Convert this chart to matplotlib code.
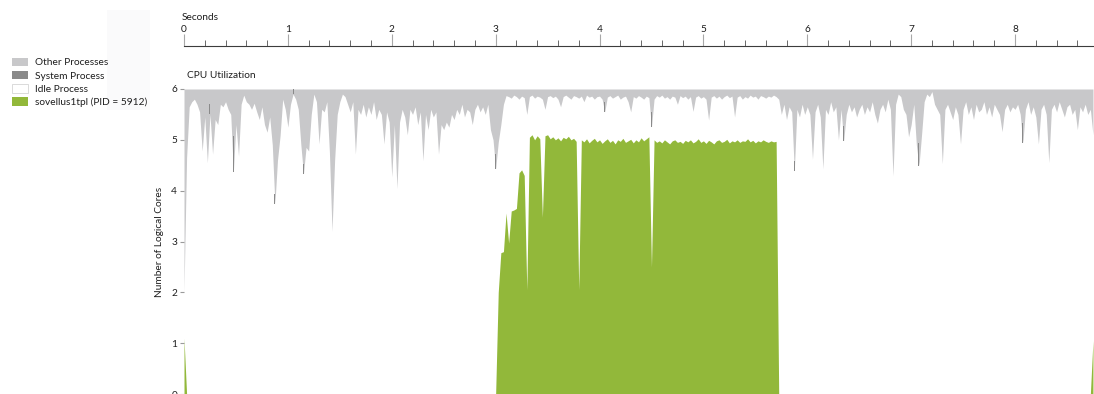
import numpy as np
import matplotlib
matplotlib.use('Agg')
import matplotlib.pyplot as plt
from matplotlib.patches import Patch, Rectangle

plt.rcParams['font.family'] = ['Lato', 'DejaVu Sans']

# sample spacing of the utilization trace, in seconds
STEP = 0.025

# top of the idle region (6 cores minus other + system), one value per sample
busy_top = [
    # 0 s
    2.0, 4.65, 5.65, 5.75, 5.8, 5.7, 5.55, 4.78, 5.45, 4.55,
    5.5, 4.72, 5.4, 5.3, 5.7, 5.65, 5.75, 5.6, 5.5, 4.37,
    5.3, 4.68, 5.7, 5.88, 5.75, 5.7, 5.6, 5.72, 5.55, 5.4,
    5.65, 5.3, 5.15, 5.45, 4.9, 3.74, 4.6, 5.08, 5.8, 5.6,
    # 1 s
    5.25, 5.7, 5.9, 5.8, 5.6, 4.9, 4.33, 4.85, 4.78, 5.5,
    5.9, 5.75, 4.92, 5.6, 5.55, 5.75, 4.75, 3.2, 4.6, 5.5,
    5.75, 5.9, 5.85, 5.7, 5.55, 5.75, 4.72, 5.6, 5.5, 5.7,
    5.45, 5.65, 5.5, 5.75, 5.4, 5.6, 5.5, 4.92, 5.55, 5.35,
    # 2 s
    4.27, 5.3, 4.04, 5.35, 5.6, 5.45, 5.1, 5.6, 5.5, 5.65,
    5.3, 5.55, 4.59, 5.5, 5.2, 5.6, 5.45, 5.55, 4.72, 5.3,
    5.2, 5.35, 5.25, 5.5, 5.4, 5.6, 5.5, 5.7, 5.45, 5.6,
    5.55, 5.3, 5.6, 5.7, 5.55, 5.65, 5.5, 5.7, 5.2, 5.0,
    # 3 s
    4.43, 4.95, 5.3, 5.7, 5.87, 5.85, 5.82, 5.88, 5.85, 5.8,
    5.86, 5.83, 5.5, 5.85, 5.88, 5.82, 5.86, 5.84, 5.8, 5.6,
    5.85, 5.87, 5.83, 5.86, 5.8, 5.65, 5.85, 5.88, 5.84, 5.8,
    5.87, 5.85, 5.82, 5.86, 5.75, 5.88, 5.84, 5.86, 5.8, 5.85,
    # 4 s
    5.86, 5.8, 5.55, 5.84, 5.87, 5.82, 5.85, 5.88, 5.8, 5.84,
    5.86, 5.75, 5.55, 5.85, 5.82, 5.87, 5.84, 5.8, 5.86, 5.83,
    5.25, 5.8, 5.87, 5.84, 5.88, 5.82, 5.85, 5.8, 5.86, 5.84,
    5.7, 5.87, 5.83, 5.86, 5.8, 5.85, 5.56, 5.84, 5.87, 5.82,
    # 5 s
    5.85, 5.8, 5.39, 5.84, 5.87, 5.82, 5.86, 5.8, 5.85, 5.88,
    5.83, 5.86, 5.45, 5.84, 5.87, 5.8, 5.85, 5.82, 5.88, 5.84,
    5.86, 5.8, 5.87, 5.85, 5.82, 5.86, 5.84, 5.88, 5.85, 5.8,
    5.5, 5.7, 5.4, 5.65, 5.55, 4.39, 5.6, 5.45, 5.7, 5.5,
    # 6 s
    5.65, 5.5, 4.62, 5.55, 5.7, 5.45, 4.43, 5.6, 5.5, 5.75,
    5.55, 5.65, 5.0, 5.6, 4.98, 5.5, 5.7, 5.55, 5.65, 5.45,
    5.6, 5.7, 5.5, 5.65, 5.55, 5.75, 5.5, 5.33, 5.6, 5.7,
    5.55, 5.8, 5.6, 4.29, 5.7, 5.9, 5.85, 5.6, 5.5, 5.06,
    # 7 s
    5.3, 5.7, 4.9, 4.49, 5.1, 5.75, 5.9, 5.85, 5.95, 5.7,
    5.6, 5.5, 4.53, 5.6, 5.7, 5.55, 5.4, 5.65, 5.5, 4.92,
    5.6, 5.75, 5.5, 5.65, 5.4, 5.7, 5.55, 5.6, 5.75, 5.5,
    5.65, 5.45, 5.7, 5.6, 5.5, 5.16, 5.6, 5.7, 5.55, 5.65,
    # 8 s
    5.6, 5.7, 5.5, 4.94, 5.6, 5.75, 5.5, 5.65, 5.45, 4.92,
    5.6, 5.7, 5.5, 4.55, 5.6, 5.7, 5.55, 5.75, 5.6, 5.45,
    5.65, 5.7, 5.5, 5.6, 5.2, 5.65, 5.55, 5.7, 5.5, 5.6,
    5.1,
]

# sovellus1tpl cores in use
app_head = [1.1] + [0.0] * 120
app_run = [
    2.0, 2.78, 2.8, 3.56, 2.97, 3.6, 3.62, 3.65, 4.35, 4.41,
    4.3, 2.05, 5.05, 5.1, 5.0, 5.08, 5.02, 3.48, 5.08, 5.1,
    5.02, 5.06, 5.0, 5.04, 4.98, 5.05, 5.02, 5.07, 5.0, 5.03,
    4.97, 2.05, 5.0, 4.96, 5.02, 4.94, 4.99, 5.03, 4.96, 5.0,
    4.93, 4.98, 5.02, 4.95, 4.99, 4.92, 5.0, 4.97, 5.03, 4.95,
    4.98, 5.01, 4.94, 5.0, 4.96, 5.04, 4.98, 5.02, 5.06, 2.5,
    5.0, 4.95, 4.98, 4.94, 5.0, 4.96, 4.92, 4.98, 5.0, 4.95,
    4.97, 4.93, 4.99, 4.96, 5.0, 4.94, 4.97, 5.02, 4.95, 4.98,
    4.93, 4.99, 4.96, 4.92, 4.98, 5.0, 4.95, 4.97, 5.01, 4.94,
    4.98, 4.96, 5.0, 4.95, 4.98, 4.97, 5.02, 4.96, 4.99, 4.94,
    4.98, 4.96, 5.0, 4.97, 4.95, 4.98, 4.96, 4.97,
]
app_tail = [0.0] * 121 + [1.05]
app = app_head + app_run + app_tail

# short bursts of the System process (seconds, cores)
sys_t = [0.25, 0.475, 0.875, 1.05, 1.15, 3.0, 4.05, 4.5, 5.875, 6.35, 7.075, 8.075]
sys_cores = [0.2, 0.7, 0.2, 0.1, 0.2, 0.3, 0.2, 0.3, 0.2, 0.3, 0.45, 0.4]

OTHER = '#c8c8ca'
SYSTEM = '#8a8a8a'
GREEN = '#92b83a'
TEXT = '#1e1e1e'
FS = 7.3

t = np.arange(len(busy_top)) * STEP
busy_top = np.array(busy_top)
app = np.array(app)

W, H = 1094, 394
fig = plt.figure(figsize=(W / 100, H / 100), dpi=100)

# faint panel behind the legend column
fig.patches.append(Rectangle((107 / W, 1 - 110 / H), 43 / W, 100 / H,
                             transform=fig.transFigure, fc='#fafafb', ec='none'))

ax = fig.add_axes([184 / W, 0, 910 / W, 305 / H])
ax.fill_between(t, busy_top, 6, color=OTHER, lw=0)
sys_base = busy_top[np.round(np.array(sys_t) / STEP).astype(int)]
ax.bar(sys_t, sys_cores, bottom=sys_base, width=0.01, color=SYSTEM, lw=0)
ax.fill_between(t, 0, app, color=GREEN, lw=0)
ax.set_xlim(0, 8.76)
ax.set_ylim(0, 6)
for s in ax.spines.values():
    s.set_visible(False)
ax.set_xticks([])
ax.set_yticks(range(7))
ax.tick_params(axis='y', length=3, color='#9a9a9a', labelsize=FS, labelcolor=TEXT, pad=2)
ax.set_ylabel('Number of Logical Cores', fontsize=FS, color=TEXT, labelpad=5)
fig.text(187 / W, 1 - 75 / H, 'CPU Utilization', fontsize=FS, color=TEXT, va='center')

# time ruler across the top
ax2 = fig.add_axes([184 / W, 1 - 45.5 / H, 910 / W, 9 / H])
ax2.set_xlim(0, 8.76)
ax2.patch.set_alpha(0)
ax2.set_yticks([])
for name, s in ax2.spines.items():
    s.set_visible(name == 'bottom')
ax2.spines['bottom'].set_color('#3c3c3c')
ax2.set_xticks(range(9))
ax2.set_xticks(np.arange(0, 8.76, 0.2), minor=True)
ax2.tick_params(axis='x', which='both', direction='in', top=False, bottom=True,
                labelbottom=False, labeltop=True, labelsize=FS, labelcolor=TEXT, pad=2)
ax2.tick_params(axis='x', which='major', length=9, color='#a8a8a8')
ax2.tick_params(axis='x', which='minor', length=4, color='#505050')
fig.text(182 / W, 1 - 17 / H, 'Seconds', fontsize=FS, color=TEXT, va='center')

handles = [Patch(fc=OTHER, ec='none'), Patch(fc=SYSTEM, ec='none'),
           Patch(fc='white', ec='#d4d4d4', lw=0.6), Patch(fc=GREEN, ec='none')]
labels = ['Other Processes', 'System Process', 'Idle Process', 'sovellus1tpl (PID = 5912)']
fig.legend(handles, labels, loc='upper left', bbox_to_anchor=(12 / W, 1 - 57.5 / H),
           frameon=False, fontsize=FS, labelcolor=TEXT, handlelength=1.6,
           handleheight=0.95, handletextpad=0.65, labelspacing=0.33, borderpad=0,
           borderaxespad=0)

fig.savefig('out.png', dpi=100)
